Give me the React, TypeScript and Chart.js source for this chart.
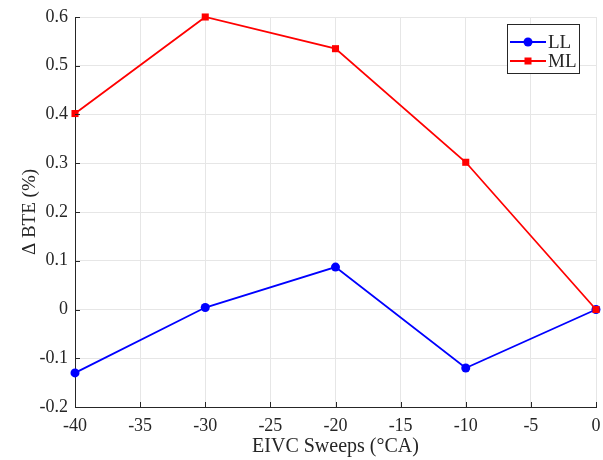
import React, { useEffect, useRef } from 'react';
import { Chart, registerables } from 'chart.js';
Chart.register(...registerables);

const sweeps = [-40, -30, -20, -10, 0];
const llValues = [-0.13, 0.004, 0.087, -0.12, 0];
const mlValues = [0.402, 0.6, 0.535, 0.302, 0];
const seriesNames = ['LL', 'ML'];
const xTitle = 'EIVC Sweeps (°CA)';
const yTitle = 'Δ BTE (%)';

const FONT = '"Liberation Serif", "Times New Roman", serif';
const TXT = '#262626';

const innerTicks = {
  id: 'innerTicks',
  afterDatasetsDraw(chart: any) {
    const ctx = chart.ctx;
    const { left, right, top, bottom } = chart.chartArea;
    const xs = chart.scales.x;
    const ys = chart.scales.y;
    ctx.save();
    ctx.strokeStyle = TXT;
    ctx.lineWidth = 1;
    ctx.beginPath();
    xs.ticks.forEach((t: any) => {
      const px = Math.round(xs.getPixelForValue(t.value)) + 0.5;
      ctx.moveTo(px, bottom);
      ctx.lineTo(px, bottom - 5);
    });
    ys.ticks.forEach((t: any) => {
      const py = Math.round(ys.getPixelForValue(t.value)) + 0.5;
      ctx.moveTo(left, py);
      ctx.lineTo(left + 5, py);
    });
    ctx.stroke();

    // legend
    const bx = right - 89;
    const by = top + 7;
    const bw = 72;
    const bh = 49;
    ctx.fillStyle = '#ffffff';
    ctx.fillRect(bx, by, bw, bh);
    ctx.strokeStyle = TXT;
    ctx.lineWidth = 1;
    ctx.strokeRect(bx + 0.5, by + 0.5, bw, bh);
    const items = [
      { name: seriesNames[0], color: '#0000ff', shape: 'circle', y: by + 18 },
      { name: seriesNames[1], color: '#ff0000', shape: 'rect', y: by + 37 },
    ];
    items.forEach((it) => {
      ctx.strokeStyle = it.color;
      ctx.lineWidth = 1.8;
      ctx.beginPath();
      ctx.moveTo(bx + 3, it.y);
      ctx.lineTo(bx + 39, it.y);
      ctx.stroke();
      ctx.fillStyle = it.color;
      const cx = bx + 21;
      if (it.shape === 'circle') {
        ctx.beginPath();
        ctx.arc(cx, it.y, 4.5, 0, Math.PI * 2);
        ctx.fill();
      } else {
        ctx.fillRect(cx - 3.5, it.y - 3.5, 7, 7);
      }
      ctx.fillStyle = TXT;
      ctx.font = `19px ${FONT}`;
      ctx.textAlign = 'left';
      ctx.textBaseline = 'middle';
      ctx.fillText(it.name, bx + 41, it.y + 1);
    });
    ctx.restore();
  },
};

export default function App() {
  const ref = useRef<HTMLCanvasElement>(null);
  useEffect(() => {
    if (!ref.current) return;
    const chart = new Chart(ref.current, {
      type: 'line',
      data: {
        datasets: [
          {
            label: seriesNames[0],
            data: sweeps.map((x, i) => ({ x, y: llValues[i] })),
            borderColor: '#0000ff',
            backgroundColor: '#0000ff',
            borderWidth: 1.8,
            pointStyle: 'circle',
            pointRadius: 4.5,
            pointBorderWidth: 0,
            clip: false,
            order: 1,
          },
          {
            label: seriesNames[1],
            data: sweeps.map((x, i) => ({ x, y: mlValues[i] })),
            borderColor: '#ff0000',
            backgroundColor: '#ff0000',
            borderWidth: 1.8,
            pointStyle: 'rect',
            pointRadius: 5,
            pointBorderWidth: 0,
            clip: false,
            order: 0,
          },
        ],
      },
      options: {
        animation: false,
        responsive: false,
        maintainAspectRatio: false,
        layout: { padding: { top: 17, right: 7, left: 0, bottom: 0 } },
        plugins: { legend: { display: false }, tooltip: { enabled: false } },
        scales: {
          x: {
            type: 'linear',
            min: -40,
            max: 0,
            afterFit: (s: any) => {
              s.height = 53;
              s.paddingLeft = 0;
              s.paddingRight = 0;
            },
            ticks: {
              stepSize: 5,
              color: TXT,
              font: { family: FONT, size: 18 },
              padding: 8,
              maxRotation: 0,
              callback: (v: any) => String(v),
            },
            grid: { color: '#e6e6e6', drawTicks: false, lineWidth: 1 },
            border: { display: true, color: TXT, width: 1 },
            title: {
              display: true,
              text: xTitle,
              color: TXT,
              font: { family: FONT, size: 20 },
              padding: { top: 0, bottom: 1 },
            },
          },
          y: {
            type: 'linear',
            min: -0.2,
            max: 0.6,
            afterFit: (s: any) => {
              s.width = 75;
              s.paddingTop = 0;
              s.paddingBottom = 0;
            },
            ticks: {
              stepSize: 0.1,
              color: TXT,
              font: { family: FONT, size: 18 },
              padding: 7,
              callback: (v: any) => String(Number(Number(v).toFixed(1))),
            },
            grid: { color: '#e6e6e6', drawTicks: false, lineWidth: 1 },
            border: { display: true, color: TXT, width: 1 },
            title: {
              display: true,
              text: yTitle,
              color: TXT,
              font: { family: FONT, size: 19 },
              padding: { top: 19, bottom: 0 },
            },
          },
        },
      },
      plugins: [innerTicks],
    });
    return () => chart.destroy();
  }, []);
  return (
    <div style={{ position: 'fixed', left: 0, top: 0, width: 603, height: 460, background: '#fff' }}>
      <canvas ref={ref} width={603} height={460} style={{ width: 603, height: 460 }} />
    </div>
  );
}
